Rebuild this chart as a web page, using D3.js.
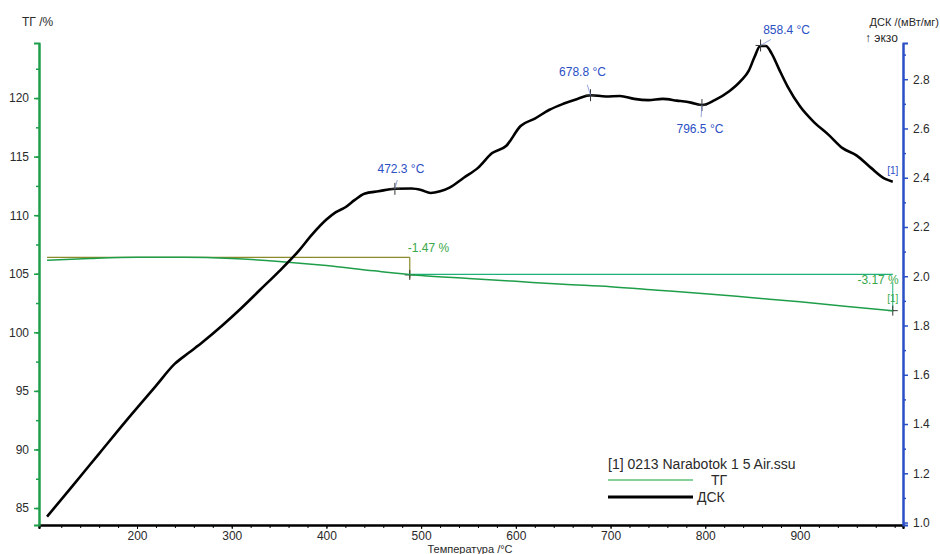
<!DOCTYPE html>
<html><head><meta charset="utf-8">
<script src="https://cdn.jsdelivr.net/npm/d3@7"></script>
<style>body{margin:0;background:#fff}svg{display:block;font-family:"Liberation Sans",Arial,sans-serif}</style>
</head><body><svg id="c" width="940" height="554"></svg>
<script>
const dscT = [105,130,160,190,220,240,255,270,290,310,330,350,370,385,400,410,420,430,440,455,472,490,500,510,520,530,545,560,575,590,605,620,635,650,665,679,695,710,725,740,755,770,785,797,810,825,838,846,852,858,864,870,878,887,900,915,930,945,960,975,990,998];
const dscV = [1.024,1.14,1.28,1.42,1.555,1.645,1.69,1.735,1.80,1.87,1.945,2.02,2.10,2.17,2.23,2.26,2.28,2.31,2.335,2.345,2.355,2.356,2.35,2.338,2.345,2.36,2.40,2.44,2.50,2.53,2.61,2.64,2.675,2.70,2.72,2.735,2.73,2.732,2.72,2.715,2.72,2.713,2.705,2.695,2.715,2.75,2.795,2.835,2.89,2.935,2.935,2.905,2.84,2.77,2.69,2.625,2.575,2.52,2.49,2.44,2.395,2.384];
const tgT = [105,150,200,250,300,350,400,450,500,550,600,650,700,750,800,850,900,950,998];
const tgV = [106.15,106.3,106.4,106.4,106.3,106.05,105.7,105.25,104.85,104.6,104.35,104.1,103.9,103.6,103.3,102.95,102.6,102.2,101.85];
const xTicks = [200,300,400,500,600,700,800,900];
const tgTicks = [85,90,95,100,105,110,115,120];
const dscTicks = [1.0,1.2,1.4,1.6,1.8,2.0,2.2,2.4,2.6,2.8];
const peakT = [472.3,678.8,796.5,858.4];
const peakV = [2.355,2.735,2.695,2.937];
const peakLabels = ["472.3 °C","678.8 °C","796.5 °C","858.4 °C"];
const stepT = [488,998];
const stepLabels = ["-1.47 %","-3.17 %"];
const tgStart = 106.4, tgMid = 104.95, tgEnd = 101.85;

const svg = d3.select("#c");
const L=39,R=903,T=43,B=525;
const x = d3.scaleLinear().domain([96.5,1008.8]).range([L,R]);
const yTG = d3.scaleLinear().domain([83.55,124.7]).range([B,T]);
const yD = d3.scaleLinear().domain([0.99,2.947]).range([B,T]);
const green="#1f9e4a", blue="#2b4fc4", txt="#2a2a2a";

// bottom axis
const gx = svg.append("g").attr("transform",`translate(0,${B})`);
gx.call(d3.axisBottom(x).tickValues(d3.range(120,1001,20)).tickFormat("").tickSize(3));
gx.append("g").call(d3.axisBottom(x).tickValues(xTicks).tickSize(4).tickPadding(2));
gx.selectAll("path").attr("stroke","#000").attr("stroke-width",2);
gx.selectAll("text").attr("font-size",12).attr("fill",txt).attr("font-family","Liberation Sans, Arial");
svg.append("text").attr("x",470).attr("y",553).attr("text-anchor","middle").attr("font-size",11).attr("fill",txt).text("Температура /°C");

// left axis
const gl = svg.append("g").attr("transform",`translate(${L},0)`);
gl.call(d3.axisLeft(yTG).tickValues(d3.range(85,125,2.5)).tickFormat("").tickSizeInner(3).tickSizeOuter(0));
gl.append("g").call(d3.axisLeft(yTG).tickValues(tgTicks).tickSize(5).tickPadding(5));
gl.selectAll("path").attr("stroke",green).attr("stroke-width",2);
gl.selectAll("line").attr("stroke",green).attr("stroke-width",1.5);
gl.selectAll("text").attr("font-size",12).attr("fill",txt).attr("font-family","Liberation Sans, Arial");
svg.append("text").attr("x",22).attr("y",26).attr("font-size",12).attr("fill",txt).text("ТГ /%");

// right axis
const gr = svg.append("g").attr("transform",`translate(${R},0)`);
gr.call(d3.axisRight(yD).tickValues(d3.range(1.1,2.95,0.2)).tickFormat("").tickSizeInner(3).tickSizeOuter(0));
gr.append("g").call(d3.axisRight(yD).tickValues(dscTicks).tickSize(5).tickPadding(5).tickFormat(d3.format(".1f")));
gr.selectAll("path").attr("stroke",blue).attr("stroke-width",2);
gr.selectAll("line").attr("stroke",blue).attr("stroke-width",1.5);
gr.selectAll("text").attr("font-size",12).attr("fill",txt).attr("font-family","Liberation Sans, Arial");
svg.append("text").attr("x",939).attr("y",26).attr("text-anchor","end").attr("font-size",11).attr("fill",txt).text("ДСК /(мВт/мг)");
svg.append("text").attr("x",865).attr("y",42).attr("font-size",12).attr("fill",txt).text("↑ экзо");

// TG step annotation
const ol="#8a8a2a", teal="#1fb07a";
svg.append("line").attr("x1",x(tgT[0])).attr("x2",x(stepT[0])).attr("y1",yTG(tgStart)).attr("y2",yTG(tgStart)).attr("stroke",ol).attr("stroke-width",1.2);
svg.append("line").attr("x1",x(stepT[0])).attr("x2",x(stepT[0])).attr("y1",yTG(tgStart)).attr("y2",yTG(tgMid)+4).attr("stroke",ol).attr("stroke-width",1.2);
svg.append("line").attr("x1",x(stepT[0])).attr("x2",x(stepT[1])).attr("y1",yTG(tgMid)).attr("y2",yTG(tgMid)).attr("stroke",teal).attr("stroke-width",1.2);
svg.append("line").attr("x1",x(stepT[1])).attr("x2",x(stepT[1])).attr("y1",yTG(tgMid)+8).attr("y2",yTG(tgEnd)+1).attr("stroke",teal).attr("stroke-width",1);
svg.append("text").attr("x",x(stepT[0])-2).attr("y",yTG(tgStart)-5).attr("font-size",12).attr("fill","#3aa84a").text(stepLabels[0]);
svg.append("text").attr("x",x(stepT[1])+6).attr("y",yTG(tgMid)+10).attr("text-anchor","end").attr("font-size",12).attr("fill","#3aa84a").text(stepLabels[1]);
svg.append("text").attr("x",x(stepT[1])).attr("y",yTG(tgMid)+28).attr("text-anchor","middle").attr("font-size",10).attr("fill","#3aa84a").text("[1]");
[[stepT[0],104.9],[stepT[1],tgEnd]].forEach(([t,v])=>{
  const cx=x(t), cy=yTG(v);
  svg.append("path").attr("d",`M${cx-5},${cy}H${cx+5}M${cx},${cy-5}V${cy+5}`).attr("stroke","#333").attr("stroke-width",1);
});

// TG line
svg.append("path").datum(tgT.map((t,i)=>[t,tgV[i]]))
 .attr("d",d3.line().x(d=>x(d[0])).y(d=>yTG(d[1])).curve(d3.curveMonotoneX))
 .attr("fill","none").attr("stroke",green).attr("stroke-width",1.5);

// DSC line
svg.append("path").datum(dscT.map((t,i)=>[t,dscV[i]]))
 .attr("d",d3.line().x(d=>x(d[0])).y(d=>yD(d[1])).curve(d3.curveMonotoneX))
 .attr("fill","none").attr("stroke","#000").attr("stroke-width",2.6).attr("stroke-linejoin","round");
svg.append("text").attr("x",x(998)).attr("y",yD(2.384)-8).attr("text-anchor","middle").attr("font-size",10).attr("fill",blue).text("[1]");

// peaks
const labOff = [[6,-16],[-8,-19],[-2,22],[26,-11]];
peakT.forEach((t,i)=>{
  const cx=x(t), cy=yD(peakV[i]);
  svg.append("path").attr("d",`M${cx-5},${cy}H${cx+5}M${cx},${cy-6}V${cy+6}`).attr("stroke","#333").attr("stroke-width",1);
  svg.append("line").attr("x1",cx).attr("y1",cy).attr("x2",cx+labOff[i][0]*0.4).attr("y2",cy+labOff[i][1]*0.55).attr("stroke","#7a8fd0").attr("stroke-width",0.8);
  svg.append("text").attr("x",cx+labOff[i][0]).attr("y",cy+labOff[i][1]+(labOff[i][1]>0?6:0)).attr("text-anchor","middle").attr("font-size",12).attr("fill",blue).text(peakLabels[i]);
});

// legend
svg.append("text").attr("x",608).attr("y",469).attr("font-size",14).attr("fill",txt).text("[1] 0213 Narabotok 1 5 Air.ssu");
svg.append("line").attr("x1",608).attr("x2",693).attr("y1",480).attr("y2",480).attr("stroke","#5cc07a").attr("stroke-width",1.5);
svg.append("text").attr("x",711).attr("y",485).attr("font-size",14).attr("fill",txt).text("ТГ");
svg.append("line").attr("x1",608).attr("x2",693).attr("y1",497).attr("y2",497).attr("stroke","#000").attr("stroke-width",3);
svg.append("text").attr("x",697).attr("y",502).attr("font-size",14).attr("fill",txt).text("ДСК");
</script></body></html>
